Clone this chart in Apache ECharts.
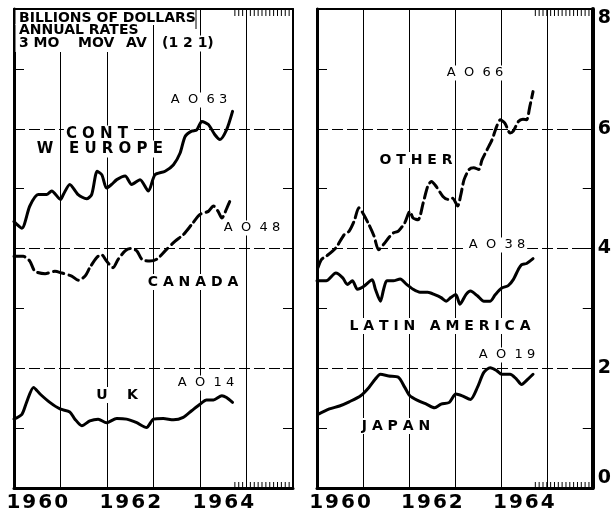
<!DOCTYPE html>
<html><head><meta charset="utf-8">
<script src="https://cdn.jsdelivr.net/npm/echarts@6/dist/echarts.min.js"></script>
<style>html,body{margin:0;padding:0;background:#fff}#c{width:614px;height:513px}</style>
</head><body><div id="c"></div>
<script>
// ---- data (billions of dollars, annual rates, 3-month moving average) ----
const yearLabels = ['1960', '', '1962', '', '1964', ''];
const yTickLabels = ['0', '2', '4', '6', '8'];
const monthTicks = [1964.75,1964.833,1964.917,1965.0,1965.083,1965.167,1965.25,1965.333,1965.417,1965.5,1965.583,1965.667,1965.75,1965.833,1965.917];

const contWEurope = [[1960.00,4.45],[1960.17,4.34],[1960.34,4.71],[1960.52,4.90],[1960.70,4.90],[1960.81,4.96],[1961.00,4.82],[1961.06,4.90],[1961.20,5.07],[1961.38,4.90],[1961.56,4.83],[1961.67,4.90],[1961.79,5.29],[1961.89,5.23],[1961.99,5.01],[1962.10,5.07],[1962.21,5.15],[1962.39,5.21],[1962.53,5.07],[1962.71,5.15],[1962.89,4.96],[1963.03,5.23],[1963.25,5.29],[1963.43,5.40],[1963.57,5.59],[1963.68,5.87],[1963.82,5.96],[1963.93,5.98],[1964.04,6.12],[1964.18,6.07],[1964.32,5.90],[1964.43,5.82],[1964.57,5.98],[1964.70,6.29]];
const canada = [[1960.00,3.87],[1960.20,3.87],[1960.34,3.79],[1960.45,3.62],[1960.67,3.58],[1960.88,3.62],[1961.03,3.59],[1961.24,3.54],[1961.38,3.47],[1961.53,3.54],[1961.63,3.68],[1961.78,3.85],[1961.88,3.90],[1961.99,3.79],[1962.13,3.68],[1962.24,3.82],[1962.39,3.96],[1962.50,4.00],[1962.64,3.96],[1962.75,3.82],[1962.92,3.79],[1963.07,3.82],[1963.25,3.96],[1963.46,4.12],[1963.64,4.23],[1963.82,4.40],[1964.00,4.57],[1964.18,4.62],[1964.29,4.71],[1964.39,4.62],[1964.47,4.51],[1964.58,4.68],[1964.66,4.82]];
const uk = [[1960.00,1.15],[1960.17,1.23],[1960.27,1.43],[1960.42,1.68],[1960.56,1.57],[1960.77,1.43],[1960.99,1.32],[1961.20,1.27],[1961.31,1.15],[1961.46,1.04],[1961.63,1.12],[1961.81,1.15],[1961.99,1.09],[1962.21,1.16],[1962.42,1.15],[1962.64,1.09],[1962.85,1.01],[1963.00,1.15],[1963.21,1.16],[1963.43,1.14],[1963.64,1.18],[1963.82,1.29],[1964.00,1.40],[1964.14,1.47],[1964.29,1.47],[1964.47,1.54],[1964.57,1.51],[1964.70,1.43]];
const other = [[1960.02,3.68],[1960.10,3.82],[1960.20,3.87],[1960.41,4.01],[1960.59,4.23],[1960.70,4.29],[1960.81,4.46],[1960.91,4.68],[1960.99,4.60],[1961.13,4.40],[1961.24,4.21],[1961.34,3.98],[1961.45,4.07],[1961.56,4.18],[1961.66,4.26],[1961.77,4.29],[1961.91,4.43],[1962.02,4.62],[1962.09,4.51],[1962.20,4.48],[1962.31,4.76],[1962.41,5.04],[1962.49,5.12],[1962.59,5.04],[1962.74,4.87],[1962.85,4.82],[1962.95,4.84],[1963.06,4.71],[1963.13,4.90],[1963.20,5.15],[1963.31,5.32],[1963.41,5.35],[1963.52,5.32],[1963.59,5.48],[1963.70,5.65],[1963.81,5.82],[1963.91,6.04],[1963.99,6.15],[1964.09,6.09],[1964.20,5.93],[1964.27,5.96],[1964.38,6.12],[1964.48,6.16],[1964.56,6.15],[1964.63,6.37],[1964.70,6.62]];
const latinAmerica = [[1960.00,3.46],[1960.20,3.46],[1960.41,3.59],[1960.56,3.51],[1960.66,3.40],[1960.77,3.46],[1960.88,3.32],[1961.02,3.37],[1961.20,3.48],[1961.27,3.32],[1961.38,3.12],[1961.45,3.32],[1961.52,3.46],[1961.66,3.46],[1961.81,3.49],[1961.95,3.40],[1962.09,3.32],[1962.24,3.27],[1962.41,3.27],[1962.56,3.23],[1962.70,3.18],[1962.81,3.12],[1962.91,3.18],[1963.02,3.23],[1963.11,3.07],[1963.24,3.23],[1963.34,3.29],[1963.49,3.21],[1963.63,3.12],[1963.77,3.12],[1963.88,3.23],[1964.02,3.34],[1964.16,3.38],[1964.27,3.48],[1964.38,3.65],[1964.45,3.73],[1964.56,3.75],[1964.70,3.83]];
const japan = [[1960.02,1.23],[1960.27,1.32],[1960.49,1.37],[1960.70,1.44],[1960.95,1.54],[1961.13,1.68],[1961.27,1.82],[1961.38,1.90],[1961.56,1.87],[1961.77,1.85],[1961.91,1.68],[1962.02,1.54],[1962.20,1.46],[1962.38,1.40],[1962.56,1.34],[1962.70,1.40],[1962.88,1.43],[1963.02,1.57],[1963.16,1.54],[1963.34,1.48],[1963.49,1.68],[1963.63,1.93],[1963.77,2.01],[1963.91,1.96],[1964.02,1.90],[1964.20,1.90],[1964.34,1.82],[1964.45,1.73],[1964.59,1.82],[1964.70,1.90]];

// ---- chart ----
const chart = echarts.init(document.getElementById('c'), null, {renderer: 'canvas'});
const FONT = '"DejaVu Sans", sans-serif';
const grids = [{left: 14, top: 9, width: 279, height: 480}, {left: 317, top: 9, width: 280, height: 480}];

const xAxes = [], yAxes = [];
grids.forEach((g, i) => {
  xAxes.push({type: 'value', gridIndex: i, min: 1960, max: 1966, interval: 1, position: 'bottom',
    axisLine: {show: true, onZero: false, lineStyle: {color: '#000', width: 3}},
    axisTick: {show: false}, axisLabel: {show: false},
    splitLine: {show: true, lineStyle: {color: '#000', width: 1}}});
  xAxes.push({type: 'category', gridIndex: i, data: yearLabels, position: 'bottom', boundaryGap: true,
    axisLine: {show: false}, axisTick: {show: false}, splitLine: {show: false},
    axisLabel: {show: true, interval: 0, color: '#000', fontFamily: FONT, fontWeight: 'bold', fontSize: 20, margin: 5,
      formatter: v => v.split('').join('\u200A')}});
  xAxes.push({type: 'value', gridIndex: i, min: 1960, max: 1966, position: 'top',
    axisLine: {show: true, onZero: false, lineStyle: {color: '#000', width: 2}},
    axisTick: {show: false}, axisLabel: {show: false}, splitLine: {show: false}});
  const base = {type: 'value', gridIndex: i, min: 0, max: 8, interval: 2,
    axisTick: {show: true, inside: true, length: 10, lineStyle: {color: '#000', width: 1}},
    minorTick: {show: true, splitNumber: 2, length: 10, lineStyle: {color: '#000', width: 1}}};
  yAxes.push(Object.assign({}, base, {position: 'left',
    axisLine: {show: true, onZero: false, lineStyle: {color: '#000', width: 3}},
    axisLabel: {show: false},
    splitLine: {show: true, lineStyle: {color: '#000', width: 1, type: [11, 4]}}}));
  yAxes.push(Object.assign({}, base, {position: 'right',
    axisLine: {show: true, onZero: false, lineStyle: {color: '#000', width: i === 1 ? 4 : 2}},
    splitLine: {show: false},
    axisLabel: {show: i === 1, color: '#000', fontFamily: FONT, fontWeight: 'bold', fontSize: 19, margin: 5,
      formatter: v => yTickLabels[v / 2],
      verticalAlignMinLabel: 'bottom', verticalAlignMaxLabel: 'top'}}));
});

function lineSeries(name, data, gi, dashed) {
  return {name, type: 'line', xAxisIndex: gi * 3, yAxisIndex: gi * 2, data, showSymbol: false, symbol: 'none',
    smooth: 0.25, z: 3, lineStyle: {color: '#000', width: 3, type: dashed ? [11, 5] : 'solid', cap: 'round', join: 'round'}};
}
function tickSeries(gi) {
  return {type: 'custom', xAxisIndex: gi * 3, yAxisIndex: gi * 2, data: monthTicks.map(v => [v, 8]), z: 3, silent: true,
    renderItem(params, api) {
      const x = api.value(0);
      const t = api.coord([x, 8]), b = api.coord([x, 0]);
      return {type: 'group', children: [
        {type: 'line', shape: {x1: t[0], y1: t[1], x2: t[0], y2: t[1] + 7}, style: {stroke: '#000', lineWidth: 1}},
        {type: 'line', shape: {x1: b[0], y1: b[1], x2: b[0], y2: b[1] - 6}, style: {stroke: '#000', lineWidth: 1}}]};
    }};
}

function txt(text, x, y, opt) {
  opt = opt || {};
  return {type: 'text', x, y, z: 1, style: {text, fill: '#000',
    font: (opt.bold ? 'bold ' : '') + (opt.size || 14) + 'px ' + FONT,
    textAlign: opt.align || 'center', textVerticalAlign: 'middle', align: opt.align || 'center', verticalAlign: 'middle',
    backgroundColor: opt.bg === false ? null : '#fff', padding: opt.pad || [1, 2]}};
}

const graphics = [
  {type: 'rect', z: 1, shape: {x: 15.5, y: 10, width: 180, height: 15}, style: {fill: '#fff'}},
  {type: 'rect', z: 1, shape: {x: 15.5, y: 24, width: 136, height: 28}, style: {fill: '#fff'}},
  {type: 'line', z: 1, shape: {x1: 196, y1: 9, x2: 196, y2: 29}, style: {stroke: '#000', lineWidth: 1}},
  txt('BILLIONS OF DOLLARS', 17, 18, {bold: true, size: 14, align: 'left', bg: false}),
  txt('ANNUAL RATES', 17, 30.5, {bold: true, size: 14, align: 'left', bg: false}),
  txt('3 MO', 17, 43.5, {bold: true, size: 14, align: 'left', bg: false}),
  txt('MOV', 76, 43.5, {bold: true, size: 14, align: 'left', bg: false}),
  txt('AV', 124, 43.5, {bold: true, size: 14, align: 'left', bg: false}),
  txt('(1 2 1)', 160, 43.5, {bold: true, size: 14, align: 'left'}),
  txt('A  O  6 3', 199, 100, {size: 13}),
  txt('C O N T', 97, 134, {bold: true, size: 15}),
  txt('W', 45, 149, {bold: true, size: 15}),
  txt('E U R O P E', 116, 149, {bold: true, size: 15}),
  txt('A  O  4 8', 252, 228, {size: 13}),
  txt('C A N A D A', 193, 282, {bold: true, size: 14}),
  txt('U    K', 117, 395, {bold: true, size: 14}),
  txt('A  O  1 4', 206, 383, {size: 13}),
  txt('A  O  6 6', 475, 73, {size: 13}),
  txt('O T H E R', 416, 160, {bold: true, size: 14}),
  txt('A  O  3 8', 497, 245, {size: 13}),
  txt('L A T I N   A M E R I C A', 440, 326, {bold: true, size: 14}),
  txt('A  O  1 9', 507, 355, {size: 13}),
  txt('J A P A N', 396, 426, {bold: true, size: 14})
];

chart.setOption({
  backgroundColor: '#fff',
  animation: false,
  grid: grids.map(g => Object.assign({show: false, containLabel: false}, g)),
  xAxis: xAxes,
  yAxis: yAxes,
  series: [
    lineSeries('CONT W EUROPE', contWEurope, 0, false),
    lineSeries('CANADA', canada, 0, true),
    lineSeries('UK', uk, 0, false),
    lineSeries('OTHER', other, 1, true),
    lineSeries('LATIN AMERICA', latinAmerica, 1, false),
    lineSeries('JAPAN', japan, 1, false),
    tickSeries(0), tickSeries(1)
  ],
  graphic: graphics
});
</script></body></html>
